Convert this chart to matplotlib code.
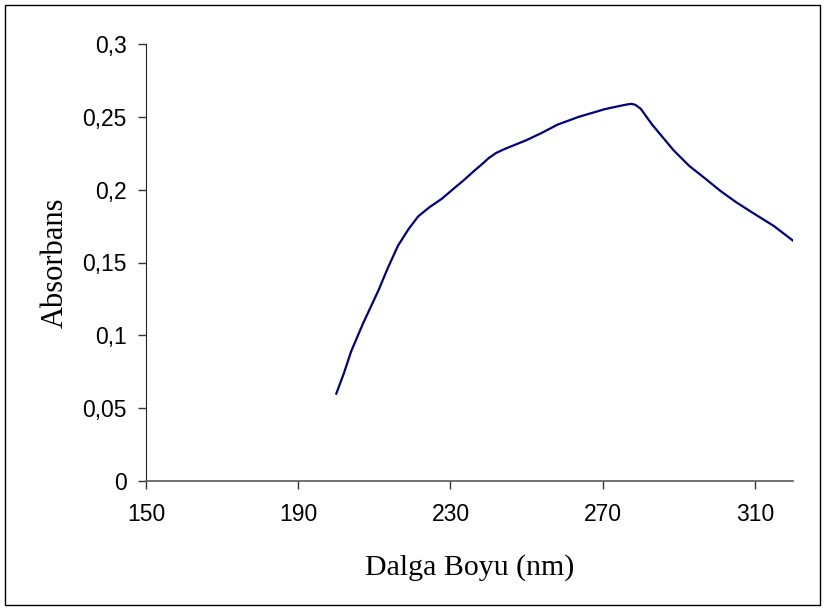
import matplotlib
matplotlib.use("Agg")
from matplotlib import pyplot as plt
from matplotlib.patches import Rectangle
from matplotlib.ticker import FuncFormatter

# lecture du spectre (longueur d'onde en nm, absorbance)
dalgaBoyu = [200, 202, 203.9, 207, 211.1, 213.5, 216.2, 219, 221.5, 224.5,
             227.7, 230.7, 233.5, 236, 238.5, 240.1, 242, 244.3, 249.8, 254,
             258.1, 263.7, 270.6, 274.5, 276.6, 277.6, 278.6, 280, 283, 288.6,
             292.7, 297, 301, 305, 309.3, 315, 320]
absorbans = [0.060, 0.074, 0.089, 0.108, 0.131, 0.146, 0.1615, 0.173,
             0.1816, 0.188, 0.1937, 0.2004, 0.2065, 0.2124, 0.2180, 0.2218,
             0.2252, 0.2280, 0.2338, 0.239, 0.2446, 0.250, 0.2553, 0.2575,
             0.2586, 0.2589, 0.2582, 0.2555, 0.2446, 0.2271, 0.2164, 0.2075,
             0.199, 0.1915, 0.1843, 0.175, 0.165]

xTicks = [150, 190, 230, 270, 310]
yTicks = [0, 0.05, 0.1, 0.15, 0.2, 0.25, 0.3]


def virgule(v, pos):
    """Formate un nombre avec une virgule décimale."""
    return ("%g" % v).replace(".", ",")


fig = plt.figure(figsize=(8.25, 6.1), dpi=100)
ax = fig.add_axes([146 / 825, 1 - 481 / 610, (793 - 146) / 825, (481 - 44) / 610])

ax.plot(dalgaBoyu, absorbans, color="#000080", linewidth=1.6,
        solid_joinstyle="round")

ax.set_xlim(150, 320)
ax.set_ylim(0, 0.3)
ax.set_xticks(xTicks)
ax.set_yticks(yTicks)
ax.yaxis.set_major_formatter(FuncFormatter(virgule))

for s in ("top", "right"):
    ax.spines[s].set_visible(False)
ax.spines["left"].set_color("#222222")
ax.spines["bottom"].set_color("#666666")
ax.spines["bottom"].set_linewidth(1.3)

ax.tick_params(direction="out", length=6, width=1, color="#333333",
               labelsize=16.5, pad=8)
ax.tick_params(axis="x", pad=10)
for lab in ax.get_xticklabels() + ax.get_yticklabels():
    lab.set_family("Liberation Sans")

ax.set_xlabel("Dalga Boyu (nm)", family="Liberation Serif", fontsize=21.5,
              labelpad=20)
ax.set_ylabel("Absorbans", family="Liberation Serif", fontsize=22,
              labelpad=9)

# cadre autour de la figure
fig.patches.append(Rectangle((5 / 825, 5 / 610), 815 / 825, 600 / 610,
                             transform=fig.transFigure, fill=False,
                             edgecolor="black", linewidth=1.0))

fig.savefig("out.png", dpi=100)
